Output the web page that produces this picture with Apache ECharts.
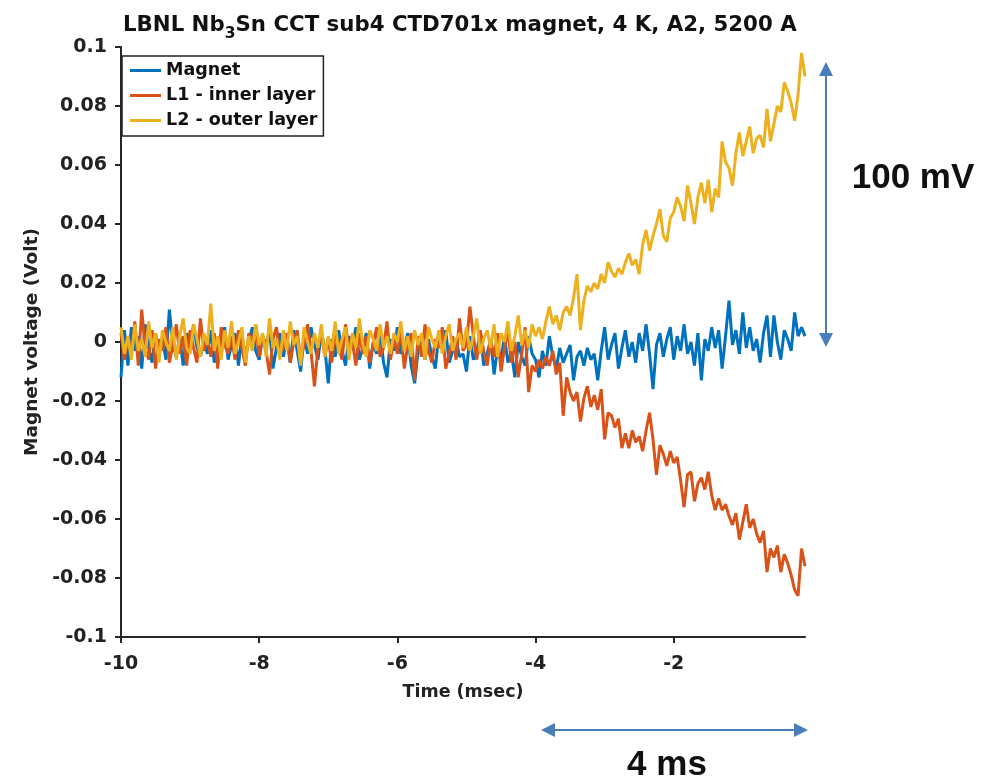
<!DOCTYPE html>
<html>
<head>
<meta charset="utf-8">
<script src="https://cdn.jsdelivr.net/npm/echarts@6/dist/echarts.min.js"></script>
<style>
  html, body { margin: 0; padding: 0; background: #fff; }
  #main { width: 991px; height: 782px; }
</style>
</head>
<body>
<div id="main"></div>
<script>
// sampling of the traces: first sample time and step (msec)
const T0 = -10;
const DT = 0.05;

// voltages in mV, one value per sample
const magnet = [
  -12, 4, -8, 5, -3, 2, -9, 6, -2, -7, 3, -4, 1, -6, 11, -1, -5, 2, -8, 3,
  -3, 6, -2, -5, 1, -4, 4, -7, 0, -2, 5, -6, -1, 3, -8, 2, -4, 0, 5, -3,
  -6, 2, -1, 4, -9, -2, 3, -5, 1, -7, 4, -3, -10, 2, -4, 5, -1, -6, 3, -2,
  -14, 1, -5, 4, -3, -8, 2, -1, 5, -6, -2, 3, -9, 0, -4, 4, -7, -12, 1, -3,
  5, -4, -2, 3, -8, -14, -3, 2, -6, 1, -5, -9, 3, -2, 4, -7, -3, 1, -5, -4,
  -10, 2, -6, -3, 3, -8, -4, 1, -11, -2, -6, 2, -7, -3, -12, 0, -5, -8, 2, -4,
  -6, -12, -3, -8, 2, -5, -9, -2, -7, -4,
  -1, -13, -5, -3, -8, -2, -6, -4, -13, -3,
  5, -6, -1, 3, -9, -2, 4, -5, 0, -7,
  3, -3, 6, -4, -16, -1, 3, -5, 1, 5,
  -6, 2, -3, 6, -4, 0, -8, 3, -13, 1,
  -3, 5, -2, 4, -9, 2, 14, -1, 4, -4,
  10, -2, 5, -3, 1, -7, 3, 9, -5, 9,
  0, -6, 4, 1, -3, 10, 2, 5, 2
];
const innerL1 = [
  3, -6, 2, -4, 7, -8, 11, -2, -6, 4, -9, 1, -3, 5, -7, -1, 6, -4, 2, -8,
  4, -2, -7, 8, -3, 1, -5, 3, -9, 5, -1, -4, 2, -6, 4, -2, -8, 3, -1, 6,
  -5, 2, -3, -11, 1, 5, -4, -2, 3, -7, 0, 4, -6, -1, 6, -3, -15, -2, 3, -5,
  1, -7, 4, -2, -6, 6, -3, 0, -8, 3, -4, 2, -7, -1, 5, -5, -2, 7, -6, 1,
  -4, 4, -9, -1, 3, -13, 2, -5, 6, -3, -7, 1, -2, 5, -9, -4, 2, -6, 8, -3,
  -1, 12, 2, -6, 4, -3, -8, 1, -5, 3, -10, -2, 4, -7, 0, -12, -4, 5, -17, -8,
  -10, -6, -9, -5, -8, -3, -11, -7, -25, -12,
  -17, -20, -17, -27, -19, -15, -22, -18, -23, -16,
  -33, -24, -25, -29, -26, -36, -31, -36, -30, -34,
  -32, -37, -30, -24, -33, -45, -35, -38, -42, -37,
  -41, -39, -47, -56, -45, -44, -54, -48, -46, -50,
  -44, -52, -57, -53, -57, -55, -59, -62, -58, -67,
  -61, -55, -63, -60, -65, -68, -64, -78, -70, -73,
  -69, -78, -72, -75, -79, -84, -86, -70, -76
];
const outerL2 = [
  5, -4, 2, -6, 6, -3, 1, -5, 7, -2, 3, -7, 4, 0, -3, 5, -6, 2, 8, -2,
  -4, 6, 1, -5, 3, -1, 13, -3, 2, -6, 4, -2, 7, -4, 0, 5, -7, 2, -3, 6,
  -1, 3, -5, 8, -2, 1, -6, 4, -3, 7, -1, 2, -8, 5, 0, -4, 3, -2, 6, -5,
  2, -3, 7, -4, 1, 5, -6, 3, -2, 8, -1, -5, 4, 1, -3, 6, -2, 2, -4, 3,
  0, 7, -3, 2, -5, 4, -1, 3, -6, 5, 1, -2, 4, -4, 2, 6, -3, 1, 3, -2,
  5, -3, 2, 8, -4, 1, 4, -2, 6, -5, 3, 0, 7, -3, 2, 9, -1, 4, -2, 6,
  2, 5, 1, 7, 12, 6, 9, 4, 10, 12,
  9, 15, 23, 4, 14, 19, 17, 20, 18, 23,
  20, 27, 24, 22, 25, 23, 27, 30, 26, 28,
  23, 33, 38, 31, 36, 40, 45, 36, 34, 42,
  44, 49, 46, 41, 53, 47, 40, 49, 54, 47,
  55, 44, 52, 49, 68, 61, 59, 53, 64, 71,
  63, 68, 73, 64, 69, 70, 66, 79, 68, 74,
  80, 78, 88, 85, 81, 75, 84, 98, 90
];
const xTicks = [-10, -8, -6, -4, -2];

const FONT = '"DejaVu Sans", "Liberation Sans", Arial, sans-serif';
const FONT_ANN = '"Liberation Sans", Arial, Helvetica, sans-serif';
const ANN = '#4a7ebb';

function toPairs(arr) {
  // time (msec) and volts
  return arr.map((mv, i) => [+(T0 + i * DT).toFixed(2), mv / 1000]);
}

const chart = echarts.init(document.getElementById('main'), null, { renderer: 'canvas' });

const option = {
  animation: false,
  backgroundColor: '#fff',
  textStyle: { fontFamily: FONT },
  title: {
    left: 118,
    top: 3,
    text: '{a|LBNL Nb}{s|3}{a|Sn CCT sub4 CTD701x magnet, 4 K, A2, 5200 A}',
    textStyle: {
      rich: {
        a: { fontFamily: FONT, fontSize: 21.3, fontWeight: 'bold', color: '#111', lineHeight: 34 },
        s: { fontFamily: FONT, fontSize: 15.5, fontWeight: 'bold', color: '#111', lineHeight: 34, verticalAlign: 'bottom' }
      }
    }
  },
  grid: { left: 121, right: 186, top: 47, bottom: 145, containLabel: false },
  legend: {
    orient: 'vertical',
    left: 122,
    top: 56,
    padding: [4, 6, 5, 8],
    itemGap: 4,
    itemWidth: 31,
    itemHeight: 3,
    icon: 'rect',
    backgroundColor: '#fff',
    borderColor: '#222',
    borderWidth: 1.5,
    textStyle: { fontFamily: FONT, fontSize: 17.5, fontWeight: 'bold', color: '#111', lineHeight: 21 },
    data: ['Magnet', 'L1 - inner layer', 'L2 - outer layer']
  },
  xAxis: {
    type: 'value',
    min: -10,
    max: -0.1,
    interval: 2,
    name: 'Time (msec)',
    nameLocation: 'middle',
    nameGap: 46,
    nameTextStyle: { fontFamily: FONT, fontSize: 17.5, fontWeight: 'bold', color: '#222' },
    axisLine: { show: true, onZero: false, lineStyle: { color: '#262626', width: 2 } },
    axisTick: { show: true, inside: false, length: 6, customValues: xTicks, lineStyle: { color: '#262626', width: 2 } },
    axisLabel: { customValues: xTicks, margin: 18, fontFamily: FONT, fontSize: 19, fontWeight: 'bold', color: '#222' },
    splitLine: { show: false }
  },
  yAxis: {
    type: 'value',
    min: -0.1,
    max: 0.1,
    interval: 0.02,
    name: 'Magnet voltage (Volt)',
    nameLocation: 'middle',
    nameGap: 74,
    nameTextStyle: { fontFamily: FONT, fontSize: 18.5, fontWeight: 'bold', color: '#222' },
    axisLine: { show: true, onZero: false, lineStyle: { color: '#262626', width: 2 } },
    axisTick: { show: true, inside: false, length: 6, lineStyle: { color: '#262626', width: 2 } },
    axisLabel: { margin: 14, fontFamily: FONT, fontSize: 19, fontWeight: 'bold', color: '#222' },
    splitLine: { show: false }
  },
  series: [
    {
      name: 'Magnet', type: 'line', showSymbol: false, symbol: 'none',
      color: '#0072BD', lineStyle: { width: 3 },
      data: toPairs(magnet)
    },
    {
      name: 'L1 - inner layer', type: 'line', showSymbol: false, symbol: 'none',
      color: '#D95319', lineStyle: { width: 3 },
      data: toPairs(innerL1)
    },
    {
      name: 'L2 - outer layer', type: 'line', showSymbol: false, symbol: 'none',
      color: '#EDB120', lineStyle: { width: 3 },
      data: toPairs(outerL2)
    }
  ],
  graphic: [
    // vertical double arrow (100 mV)
    { type: 'line', shape: { x1: 826, y1: 72, x2: 826, y2: 336 }, style: { stroke: ANN, lineWidth: 2 } },
    { type: 'polygon', shape: { points: [[826, 62], [819, 76], [833, 76]] }, style: { fill: ANN } },
    { type: 'polygon', shape: { points: [[826, 347], [819, 333], [833, 333]] }, style: { fill: ANN } },
    { type: 'text', x: 913, y: 178, style: { text: '100 mV', fill: '#111', font: 'bold 35px ' + FONT_ANN, textAlign: 'center', textVerticalAlign: 'middle' } },
    // horizontal double arrow (4 ms)
    { type: 'line', shape: { x1: 552, y1: 730, x2: 798, y2: 730 }, style: { stroke: ANN, lineWidth: 2 } },
    { type: 'polygon', shape: { points: [[541, 730], [555, 723], [555, 737]] }, style: { fill: ANN } },
    { type: 'polygon', shape: { points: [[808, 730], [794, 723], [794, 737]] }, style: { fill: ANN } },
    { type: 'text', x: 667, y: 765, style: { text: '4 ms', fill: '#111', font: 'bold 35px ' + FONT_ANN, textAlign: 'center', textVerticalAlign: 'middle' } }
  ]
};

chart.setOption(option);
</script>
</body>
</html>
